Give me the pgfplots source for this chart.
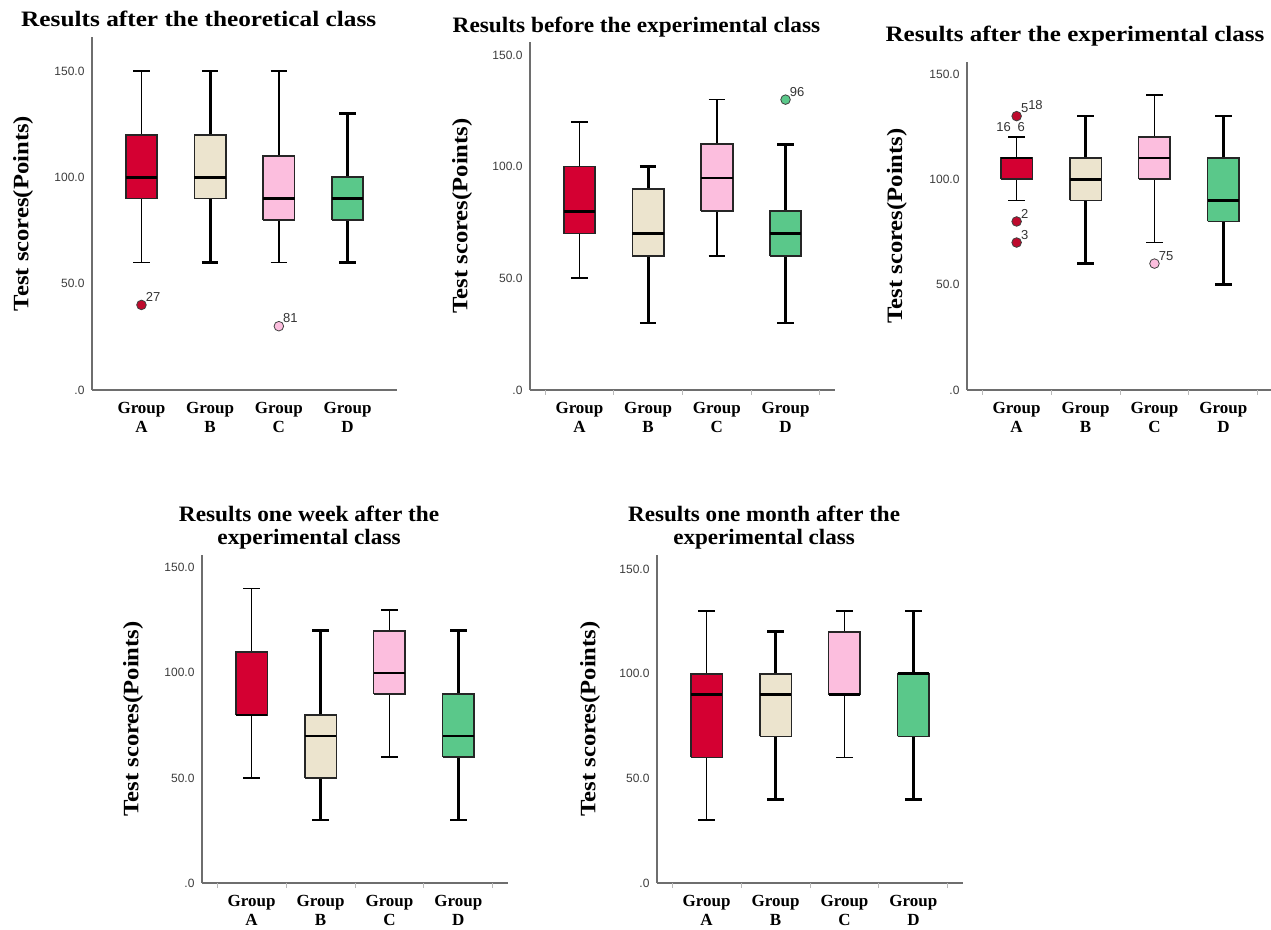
\documentclass[border=0pt]{standalone}
\usepackage{fontspec}
\setmainfont{Liberation Serif}
\setsansfont{Liberation Sans}
\usepackage{graphicx}
\usepackage{pgfplots}
\pgfplotsset{compat=1.18}
\definecolor{cA}{RGB}{212,0,50}
\definecolor{cB}{RGB}{236,228,206}
\definecolor{cC}{RGB}{252,190,222}
\definecolor{cD}{RGB}{90,200,138}
\definecolor{oA}{RGB}{190,10,45}
\definecolor{axgray}{RGB}{110,110,110}
\definecolor{ticgray}{RGB}{60,60,60}
\newcommand{\ttl}[2]{\scalebox{#1}[1]{\begin{tabular}{@{}c@{}}#2\end{tabular}}}
\pgfplotsset{
  panel/.style={
    scale only axis, clip=false,
    axis lines=left, axis line style={-, draw=axgray, line width=1.2pt},
    xmin=0.28, xmax=4.72, ymin=0,
    xtick={1,2,3,4},
    xticklabels={{Group\\A},{Group\\B},{Group\\C},{Group\\D}},
    xticklabel style={align=center, font=\bfseries\fontsize{17}{18.5}\selectfont, yshift=-9pt},
    ytick={0,50,100,150},
    yticklabels={.0,50.0,100.0,150.0},
    yticklabel style={font=\sffamily\fontsize{12}{12}\selectfont, text=ticgray, xshift=-4pt},
    major tick length=0pt,
    ylabel={\scalebox{1.12}[1]{Test scores(Points)}},
    ylabel style={font=\bfseries\fontsize{22}{22}\selectfont, anchor=center},
    title style={font=\bfseries\fontsize{22}{23}\selectfont, anchor=center},
  },
  xt/.style={
    extra x ticks={0.5,1.5,2.5,3.5,4.5},
    extra x tick labels={},
    extra x tick style={major tick length=5pt, tick align=outside, tick style={draw=gray!55, line width=0.9pt}},
  },
  olab/.style={nodes near coords, point meta=explicit symbolic,
    nodes near coords style={anchor=south west, inner sep=1pt, xshift=3pt, yshift=2pt,
      font=\sffamily\fontsize{13}{13}\selectfont, text=black!80}},
  out/.style={only marks, mark=*, mark size=4.8pt, mark options={fill=#1, draw=black!75, line width=0.8pt}, olab},
}
% box: position, lower whisker, lower quartile, median, upper quartile, upper whisker, fill, whisker line width
\newcommand{\bx}[8]{%
  \pgfmathsetmacro\bxl{#1-0.23}\pgfmathsetmacro\bxr{#1+0.23}%
  \pgfmathsetmacro\cpl{#1-0.12}\pgfmathsetmacro\cpr{#1+0.12}%
  \addplot[black, line width=#8] coordinates {(#1,#2) (#1,#3)};
  \addplot[black, line width=#8] coordinates {(#1,#5) (#1,#6)};
  \addplot[black, line width=#8] coordinates {(\cpl,#2) (\cpr,#2)};
  \addplot[black, line width=#8] coordinates {(\cpl,#6) (\cpr,#6)};
  \addplot[fill=#7, draw=black!85, line width=1.7pt, line join=miter] coordinates {(\bxl,#3) (\bxr,#3) (\bxr,#5) (\bxl,#5) (\bxl,#3)};
  \addplot[black, line width=2.4pt] coordinates {(\bxl,#4) (\bxr,#4)};
}
\begin{document}
\begin{tikzpicture}
\useasboundingbox (0,0) rectangle (1271pt,929pt);
% Panel 1
\begin{axis}[panel, at={(92pt,539pt)}, anchor=south west, width=305pt, height=353pt, ymax=166,
  title={\ttl{1.15}{Results after the theoretical class}}, title style={at={(axis description cs:0.35,1.025)}},
  ylabel style={at={(axis description cs:-0.226,0.5)}}]
\bx{1}{60}{90}{100}{120}{150}{cA}{1.7pt}
\bx{2}{60}{90}{100}{120}{150}{cB}{2.7pt}
\bx{3}{60}{80}{90}{110}{150}{cC}{1.7pt}
\bx{4}{60}{80}{90}{100}{130}{cD}{2.7pt}
\addplot[out=oA] coordinates {(1,40) [27]};
\addplot[out=cC] coordinates {(3,30) [81]};
\end{axis}
% Panel 2
\begin{axis}[panel, xt, at={(530pt,539pt)}, anchor=south west, width=305pt, height=348pt, ymax=155.8,
  title={\ttl{1.06}{Results before the experimental class}}, title style={at={(axis description cs:0.349,1.023)}},
  ylabel style={at={(axis description cs:-0.223,0.5)}}]
\bx{1}{50}{70}{80}{100}{120}{cA}{1.7pt}
\bx{2}{30}{60}{70}{90}{100}{cB}{2.7pt}
\bx{3}{60}{80}{95}{110}{130}{cC}{1.7pt}
\bx{4}{30}{60}{70}{80}{110}{cD}{2.7pt}
\addplot[out=cD] coordinates {(4,130) [96]};
\end{axis}
% Panel 3
\begin{axis}[panel, xt, at={(967pt,539pt)}, anchor=south west, width=306pt, height=328pt, ymax=155.7,
  title={\ttl{1.14}{Results after the experimental class}}, title style={at={(axis description cs:0.353,1.058)}},
  ylabel style={at={(axis description cs:-0.229,0.5)}}]
\bx{1}{90}{100}{110}{110}{120}{cA}{1.7pt}
\bx{2}{60}{90}{100}{110}{130}{cB}{2.7pt}
\bx{3}{70}{100}{110}{120}{140}{cC}{1.7pt}
\bx{4}{50}{80}{90}{110}{130}{cD}{2.7pt}
\addplot[out=oA] coordinates {(1,130) [5\raisebox{3pt}{18}] (1,80) [2] (1,70) [3]};
\addplot[out=cC] coordinates {(3,60) [75]};
\node[font=\sffamily\fontsize{13}{13}\selectfont, text=black!80, xshift=-6pt] at (axis cs:1,125) {16\hspace{7pt}6};
\end{axis}
% Panel 4
\begin{axis}[panel, xt, at={(202pt,46pt)}, anchor=south west, width=306pt, height=328pt, ymax=156,
  title={\ttl{1.06}{Results one week after the\\experimental class}}, title style={at={(axis description cs:0.35,1.064)}},
  ylabel style={at={(axis description cs:-0.225,0.5)}}]
\bx{1}{50}{80}{80}{110}{140}{cA}{1.7pt}
\bx{2}{30}{50}{70}{80}{120}{cB}{2.7pt}
\bx{3}{60}{90}{100}{120}{130}{cC}{1.7pt}
\bx{4}{30}{60}{70}{90}{120}{cD}{2.7pt}
\end{axis}
% Panel 5
\begin{axis}[panel, xt, at={(657pt,46pt)}, anchor=south west, width=306pt, height=328pt, ymax=156.7,
  title={\ttl{1.05}{Results one month after the\\experimental class}}, title style={at={(axis description cs:0.35,1.064)}},
  ylabel style={at={(axis description cs:-0.219,0.5)}}]
\bx{1}{30}{60}{90}{100}{130}{cA}{1.7pt}
\bx{2}{40}{70}{90}{100}{120}{cB}{2.7pt}
\bx{3}{60}{90}{90}{120}{130}{cC}{1.7pt}
\bx{4}{40}{70}{100}{100}{130}{cD}{2.7pt}
\end{axis}
\end{tikzpicture}
\end{document}
